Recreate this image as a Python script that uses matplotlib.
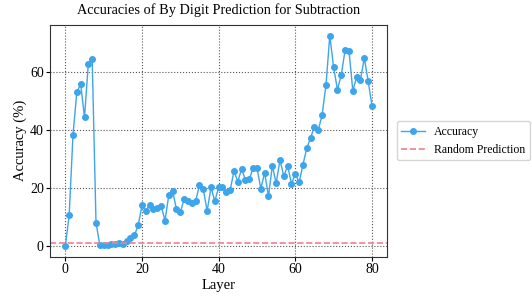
import numpy as np
import matplotlib.pyplot as plt

plt.rcParams['font.family'] = ['Liberation Serif', 'DejaVu Serif']

# Accuracy per layer
layers = list(range(81))
accuracy = [
    0.0, 10.6, 38.4, 53.1, 55.8, 44.4, 62.9, 64.6, 8.1, 0.2,
    0.3, 0.4, 0.8, 0.6, 1.0, 0.8, 1.9, 2.9, 3.7, 7.1,
    14.0, 12.0, 14.3, 12.8, 13.1, 13.9, 8.8, 17.6, 18.9, 12.7,
    11.6, 16.3, 15.4, 14.8, 15.5, 21.0, 19.6, 12.1, 20.2, 15.5,
    20.3, 20.3, 18.5, 19.3, 25.9, 22.2, 26.7, 22.7, 23.0, 27.0,
    27.0, 19.8, 25.3, 17.1, 27.7, 21.7, 29.6, 24.1, 27.7, 21.5,
    24.8, 22.0, 28.1, 33.8, 37.4, 41.2, 40.0, 45.3, 55.5, 72.6,
    61.6, 53.9, 59.1, 67.7, 67.4, 53.6, 58.2, 57.4, 64.8, 57.0,
    48.4,
]
random_pred = 1.0

fig = plt.figure(figsize=(5.32, 2.98), dpi=100)
ax = fig.add_axes([0.094, 0.139, 0.634, 0.777])

ax.plot(layers, accuracy, marker='o', markersize=4, linewidth=1,
        color='#3da5ec', label='Accuracy')
ax.axhline(random_pred, color='#f08090', linestyle='--', linewidth=1.2,
           label='Random Prediction')

ax.set_title('Accuracies of By Digit Prediction for Subtraction', fontsize=10.3, pad=8)
ax.set_xlabel('Layer', fontsize=10.5, labelpad=2)
ax.set_ylabel('Accuracy (%)', fontsize=10.5, labelpad=2)
ax.set_xticks([0, 20, 40, 60, 80])
ax.set_yticks([0, 20, 40, 60])
ax.tick_params(labelsize=10, length=3, pad=1.5)
ax.grid(True, linestyle=':', color='#555555', linewidth=0.8)
for s in ax.spines.values():
    s.set_color('#333333')

ax.legend(loc='center left', bbox_to_anchor=(1.01, 0.5), fontsize=8.5,
          frameon=True)

fig.savefig('out.png', dpi=100)
